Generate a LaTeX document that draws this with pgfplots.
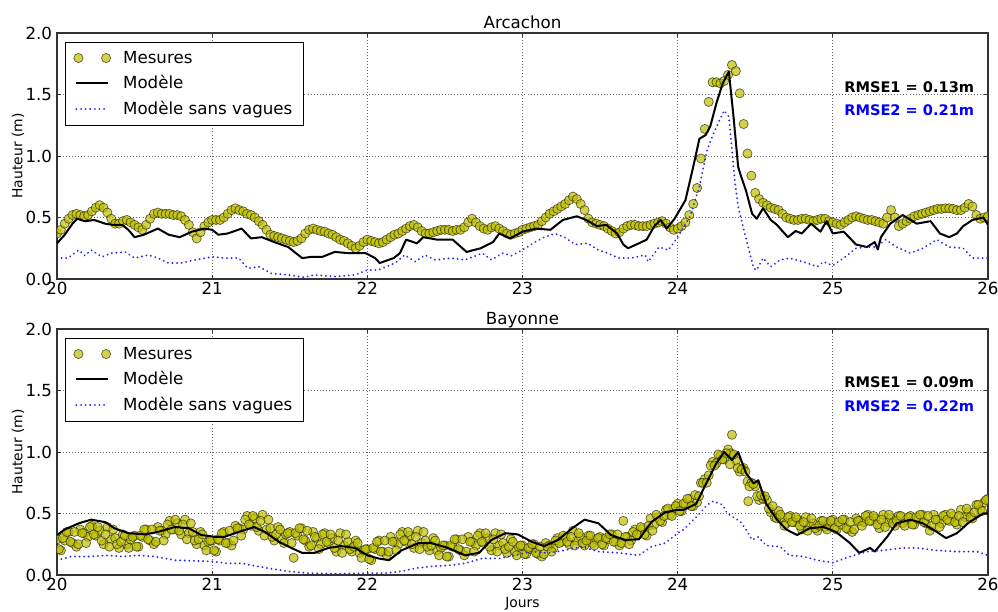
\documentclass[border=0pt]{standalone}
\usepackage{fontspec}
\setmainfont{DejaVu Sans}
\usepackage{pgfplots}
\pgfplotsset{compat=1.18}
\definecolor{meas}{rgb}{0.75,0.75,0}
\definecolor{dblue}{rgb}{0.15,0.15,0.95}
\pgfplotsset{
  myaxis/.style={
    scale only axis, width=670.32pt, height=177.12pt,
    xmin=20, xmax=26, ymin=0, ymax=2,
    xtick={20,21,22,23,24,25,26}, ytick={0,0.5,1,1.5,2},
    yticklabel style={/pgf/number format/.cd, fixed, fixed zerofill, precision=1},
    xticklabel style={yshift=1.5pt},
    /pgf/number format/assume math mode=true,
    tick label style={font=\fontsize{12}{14}\selectfont},
    grid=major,
    major grid style={black!60, line width=0.5pt, dash pattern=on 0.6pt off 1.6pt},
    axis line style={black!80, line width=0.8pt},
    major tick length=3pt,
    tick style={black!80, line width=0.6pt},
    every axis title/.style={at={(0.5,1)}, anchor=base, yshift=3.6pt, font=\fontsize{12}{14}\selectfont},
    every axis y label/.style={at={(axis description cs:-0.0419,0.5)}, rotate=90, anchor=center, font=\fontsize{10}{12}\selectfont},
    ylabel={Hauteur (m)},
    legend style={at={(axis description cs:0.0086,0.963)}, anchor=north west, draw=black, line width=0.7pt, font=\fontsize{12}{14}\selectfont, row sep=3.5pt, column sep=7pt, inner xsep=6pt, inner ysep=4pt},
    legend cell align=left,
    clip marker paths=true,
  },
  meas/.style={only marks, mark=*, mark size=3.3pt, mark options={fill=meas, fill opacity=0.7, draw=black!80!meas, draw opacity=0.7, line width=0.5pt},
    legend image code/.code={\draw[##1] plot[only marks] coordinates {(0.05cm,0cm) (0.75cm,0cm)};}},
  model/.style={black, line width=1.45pt, no markers, line join=round,
    legend image code/.code={\draw[##1] (0cm,0cm) -- (0.8cm,0cm);}},
  nowave/.style={dblue, line width=1.5pt, no markers, line cap=round, dash pattern=on 0.01pt off 3.3pt,
    legend image code/.code={\draw[##1] (0cm,0cm) -- (0.8cm,0cm);}},
}
\begin{document}
\begin{tikzpicture}
\useasboundingbox (-41.04pt,-25.92pt) rectangle (677.52pt,414pt);
% ---------------- Arcachon ----------------
\begin{axis}[myaxis, at={(0pt,213.12pt)}, anchor=south west, title={Arcachon}]
\addplot[meas] coordinates {
(20.000,0.37) (20.025,0.40) (20.050,0.45) (20.075,0.49) (20.100,0.52) (20.125,0.53) (20.150,0.52) (20.175,0.51)
(20.200,0.52) (20.225,0.55) (20.250,0.58) (20.275,0.60) (20.300,0.58) (20.325,0.54) (20.350,0.49) (20.375,0.45)
(20.400,0.45) (20.425,0.47) (20.450,0.48) (20.475,0.46) (20.500,0.44) (20.525,0.42) (20.550,0.40) (20.575,0.44)
(20.600,0.49) (20.625,0.53) (20.650,0.54) (20.675,0.53) (20.700,0.53) (20.725,0.53) (20.750,0.52) (20.775,0.52)
(20.800,0.51) (20.825,0.48) (20.850,0.44) (20.875,0.38) (20.900,0.33) (20.925,0.38) (20.950,0.43) (20.975,0.46)
(21.000,0.48) (21.025,0.48) (21.050,0.48) (21.075,0.50) (21.100,0.53) (21.125,0.56) (21.150,0.575) (21.175,0.56)
(21.200,0.55) (21.225,0.53) (21.250,0.52) (21.275,0.50) (21.300,0.47) (21.325,0.44) (21.350,0.40) (21.375,0.36)
(21.400,0.35) (21.425,0.34) (21.450,0.33) (21.475,0.32) (21.500,0.31) (21.525,0.30) (21.550,0.31) (21.575,0.33)
(21.600,0.37) (21.625,0.40) (21.650,0.41) (21.675,0.40) (21.700,0.39) (21.725,0.385) (21.750,0.37) (21.775,0.36)
(21.800,0.34) (21.825,0.32) (21.850,0.31) (21.875,0.29) (21.900,0.27) (21.925,0.25) (21.950,0.27) (21.975,0.30)
(22.000,0.32) (22.025,0.31) (22.050,0.30) (22.075,0.29) (22.100,0.30) (22.125,0.32) (22.150,0.34) (22.175,0.36)
(22.200,0.37) (22.225,0.39) (22.250,0.41) (22.275,0.43) (22.300,0.44) (22.325,0.42) (22.350,0.39) (22.375,0.37)
(22.400,0.37) (22.425,0.38) (22.450,0.39) (22.475,0.40) (22.500,0.40) (22.525,0.40) (22.550,0.39) (22.575,0.40)
(22.600,0.40) (22.625,0.42) (22.650,0.46) (22.675,0.49) (22.700,0.46) (22.725,0.43) (22.750,0.41) (22.775,0.40)
(22.800,0.42) (22.825,0.43) (22.850,0.41) (22.875,0.39) (22.900,0.37) (22.925,0.36) (22.950,0.37) (22.975,0.38)
(23.000,0.40) (23.025,0.41) (23.050,0.42) (23.075,0.43) (23.100,0.44) (23.125,0.47) (23.150,0.50) (23.175,0.53)
(23.200,0.55) (23.225,0.57) (23.250,0.59) (23.275,0.61) (23.300,0.64) (23.325,0.67) (23.350,0.65) (23.375,0.61)
(23.400,0.56) (23.425,0.49) (23.450,0.46) (23.475,0.45) (23.500,0.44) (23.525,0.43) (23.550,0.41) (23.575,0.39)
(23.600,0.37) (23.625,0.38) (23.650,0.41) (23.675,0.43) (23.700,0.44) (23.725,0.44) (23.750,0.43) (23.775,0.43)
(23.800,0.43) (23.825,0.44) (23.850,0.45) (23.875,0.46) (23.900,0.47) (23.925,0.45) (23.950,0.42) (23.975,0.40)
(24.000,0.41) (24.025,0.43) (24.050,0.46) (24.075,0.52) (24.100,0.61) (24.125,0.74) (24.150,0.98) (24.175,1.22)
(24.200,1.44) (24.225,1.60) (24.250,1.60) (24.275,1.59) (24.300,1.61) (24.325,1.66) (24.350,1.74) (24.375,1.69)
(24.400,1.51) (24.425,1.26) (24.450,1.02) (24.475,0.84) (24.500,0.70) (24.525,0.65) (24.550,0.62) (24.575,0.60)
(24.600,0.58) (24.625,0.57) (24.650,0.56) (24.675,0.53) (24.700,0.50) (24.725,0.49) (24.750,0.48) (24.775,0.48)
(24.800,0.49) (24.825,0.49) (24.850,0.48) (24.875,0.47) (24.900,0.48) (24.925,0.49) (24.950,0.49) (24.975,0.47)
(25.000,0.46) (25.025,0.45) (25.050,0.44) (25.075,0.46) (25.100,0.48) (25.125,0.50) (25.150,0.51) (25.175,0.50)
(25.200,0.49) (25.225,0.48) (25.250,0.48) (25.275,0.47) (25.300,0.46) (25.325,0.45) (25.350,0.50) (25.375,0.56)
(25.400,0.50) (25.425,0.43) (25.450,0.45) (25.475,0.47) (25.500,0.49) (25.525,0.51) (25.550,0.52) (25.575,0.53)
(25.600,0.54) (25.625,0.55) (25.650,0.56) (25.675,0.57) (25.700,0.57) (25.725,0.575) (25.750,0.575) (25.775,0.57)
(25.800,0.56) (25.825,0.56) (25.850,0.58) (25.875,0.61) (25.900,0.59) (25.925,0.52) (25.950,0.49) (25.975,0.50)
(26.000,0.51)
};
\addlegendentry{Mesures}
\addplot[model] coordinates {
(20.00,0.29) (20.05,0.36) (20.10,0.45) (20.13,0.49) (20.18,0.47) (20.24,0.48) (20.31,0.45) (20.36,0.44)
(20.42,0.44) (20.46,0.40) (20.50,0.34) (20.56,0.36) (20.65,0.41) (20.72,0.36) (20.79,0.34) (20.87,0.385)
(20.95,0.41) (21.00,0.40) (21.04,0.36) (21.10,0.37) (21.19,0.41) (21.25,0.33) (21.32,0.34) (21.40,0.30)
(21.49,0.26) (21.58,0.17) (21.64,0.18) (21.71,0.18) (21.79,0.22) (21.88,0.21) (21.99,0.21) (22.05,0.17)
(22.08,0.13) (22.17,0.17) (22.21,0.21) (22.25,0.32) (22.32,0.29) (22.36,0.34) (22.45,0.32) (22.55,0.32)
(22.64,0.22) (22.73,0.25) (22.81,0.30) (22.85,0.37) (22.92,0.33) (23.00,0.385) (23.09,0.41) (23.18,0.40)
(23.26,0.48) (23.35,0.51) (23.41,0.48) (23.48,0.43) (23.54,0.44) (23.61,0.37) (23.65,0.28) (23.68,0.25)
(23.75,0.29) (23.80,0.32) (23.85,0.43) (23.89,0.48) (23.93,0.41) (23.98,0.49) (24.05,0.64) (24.10,0.91)
(24.14,1.14) (24.18,1.17) (24.21,1.24) (24.25,1.43) (24.29,1.59) (24.33,1.685) (24.36,1.32) (24.39,0.91)
(24.41,0.83) (24.44,0.72) (24.48,0.53) (24.51,0.49) (24.55,0.575) (24.60,0.48) (24.64,0.44) (24.71,0.34)
(24.76,0.39) (24.80,0.37) (24.86,0.45) (24.92,0.385) (24.96,0.47) (25.00,0.37) (25.07,0.385) (25.15,0.28)
(25.22,0.26) (25.27,0.30) (25.29,0.24) (25.31,0.34) (25.37,0.45) (25.45,0.52) (25.54,0.45) (25.63,0.47)
(25.69,0.37) (25.75,0.34) (25.80,0.37) (25.84,0.43) (25.90,0.48) (25.97,0.50) (26.00,0.44)
};
\addlegendentry{Modèle}
\addplot[nowave] coordinates {
(20.00,0.17) (20.07,0.17) (20.14,0.235) (20.18,0.19) (20.22,0.235) (20.29,0.18) (20.35,0.21) (20.44,0.22)
(20.50,0.17) (20.59,0.195) (20.65,0.17) (20.72,0.13) (20.80,0.13) (20.89,0.155) (21.00,0.18) (21.08,0.17)
(21.17,0.17) (21.23,0.087) (21.30,0.10) (21.38,0.046) (21.49,0.033) (21.59,0.014) (21.66,0.033) (21.79,0.02)
(21.92,0.033) (22.00,0.073) (22.07,0.073) (22.18,0.13) (22.24,0.195) (22.31,0.14) (22.37,0.195) (22.44,0.155)
(22.54,0.17) (22.63,0.155) (22.74,0.21) (22.80,0.155) (22.87,0.21) (22.93,0.19) (23.00,0.235) (23.08,0.30)
(23.14,0.34) (23.21,0.37) (23.27,0.34) (23.34,0.28) (23.42,0.29) (23.49,0.235) (23.55,0.21) (23.62,0.17)
(23.70,0.17) (23.79,0.195) (23.81,0.14) (23.88,0.26) (23.94,0.235) (24.00,0.34) (24.08,0.51) (24.14,0.75)
(24.19,1.05) (24.23,1.18) (24.27,1.29) (24.30,1.37) (24.33,1.32) (24.35,1.05) (24.37,0.78) (24.39,0.59)
(24.42,0.43) (24.46,0.235) (24.49,0.087) (24.51,0.073) (24.55,0.17) (24.60,0.10) (24.66,0.155) (24.72,0.17)
(24.81,0.14) (24.90,0.10) (24.94,0.14) (25.00,0.11) (25.07,0.17) (25.15,0.25) (25.22,0.26) (25.28,0.26)
(25.34,0.32) (25.41,0.26) (25.50,0.21) (25.58,0.25) (25.67,0.32) (25.75,0.26) (25.84,0.25) (25.90,0.17)
(25.99,0.17) (26.00,0.17)
};
\addlegendentry{Modèle sans vagues}
\node[anchor=west, font=\fontsize{10.5}{12}\selectfont\bfseries, inner sep=0pt] at (axis cs:25.072,1.56) {RMSE1 = 0.13m};
\node[anchor=west, font=\fontsize{10.5}{12}\selectfont\bfseries, text=blue, inner sep=0pt] at (axis cs:25.072,1.37) {RMSE2 = 0.21m};
\end{axis}
% ---------------- Bayonne ----------------
\begin{axis}[myaxis, at={(0pt,0pt)}, anchor=south west, title={Bayonne}, xlabel={Jours},
  every axis x label/.style={at={(axis description cs:0.5,0)}, anchor=center, yshift=-20.9pt, font=\fontsize{10}{12}\selectfont}]
\addplot[meas] coordinates {
(20.000,0.29) (20.025,0.20) (20.050,0.28) (20.075,0.35) (20.100,0.26) (20.125,0.23) (20.150,0.37) (20.175,0.34)
(20.200,0.31) (20.225,0.40) (20.250,0.32) (20.275,0.36) (20.300,0.25) (20.325,0.39) (20.350,0.29) (20.375,0.30)
(20.400,0.22) (20.425,0.33) (20.450,0.25) (20.475,0.29) (20.500,0.32) (20.525,0.23) (20.550,0.31) (20.575,0.37)
(20.600,0.28) (20.625,0.25) (20.650,0.39) (20.675,0.36) (20.700,0.33) (20.725,0.44) (20.750,0.37) (20.775,0.42)
(20.800,0.33) (20.825,0.45) (20.850,0.34) (20.875,0.35) (20.900,0.25) (20.925,0.35) (20.950,0.24) (20.975,0.27)
(21.000,0.28) (21.025,0.19) (21.050,0.28) (21.075,0.35) (21.100,0.26) (21.125,0.24) (21.150,0.40) (21.175,0.38)
(21.200,0.37) (21.225,0.48) (21.250,0.40) (21.275,0.46) (21.300,0.36) (21.325,0.49) (21.350,0.37) (21.375,0.38)
(21.400,0.28) (21.425,0.39) (21.450,0.29) (21.475,0.33) (21.500,0.35) (21.525,0.14) (21.550,0.32) (21.575,0.38)
(21.600,0.28) (21.625,0.23) (21.650,0.35) (21.675,0.30) (21.700,0.25) (21.725,0.34) (21.750,0.26) (21.775,0.30)
(21.800,0.19) (21.825,0.34) (21.850,0.24) (21.875,0.27) (21.900,0.19) (21.925,0.28) (21.950,0.18) (21.975,0.20)
(22.000,0.21) (22.025,0.12) (22.050,0.21) (22.075,0.28) (22.100,0.19) (22.125,0.16) (22.150,0.31) (22.175,0.27)
(22.200,0.25) (22.225,0.35) (22.250,0.27) (22.275,0.32) (22.300,0.22) (22.325,0.36) (22.350,0.26) (22.375,0.28)
(22.400,0.20) (22.425,0.30) (22.450,0.20) (22.475,0.22) (22.500,0.24) (22.525,0.15) (22.550,0.23) (22.575,0.29)
(22.600,0.20) (22.625,0.16) (22.650,0.31) (22.675,0.27) (22.700,0.24) (22.725,0.34) (22.750,0.26) (22.775,0.30)
(22.800,0.20) (22.825,0.34) (22.850,0.24) (22.875,0.26) (22.900,0.18) (22.925,0.29) (22.950,0.19) (22.975,0.23)
(23.000,0.24) (23.025,0.17) (23.050,0.21) (23.075,0.25) (23.100,0.17) (23.125,0.15) (23.150,0.26) (23.175,0.24)
(23.200,0.22) (23.225,0.30) (23.250,0.27) (23.275,0.31) (23.300,0.25) (23.325,0.36) (23.350,0.28) (23.375,0.31)
(23.400,0.24) (23.425,0.32) (23.450,0.26) (23.475,0.29) (23.500,0.31) (23.525,0.24) (23.550,0.29) (23.575,0.33)
(23.600,0.27) (23.625,0.24) (23.650,0.44) (23.675,0.31) (23.700,0.28) (23.725,0.37) (23.750,0.33) (23.775,0.38)
(23.800,0.32) (23.825,0.46) (23.850,0.41) (23.875,0.47) (23.900,0.43) (23.925,0.53) (23.950,0.49) (23.975,0.54)
(24.000,0.58) (24.025,0.52) (24.050,0.58) (24.075,0.62) (24.100,0.56) (24.125,0.59) (24.150,0.75) (24.175,0.78)
(24.200,0.81) (24.225,0.92) (24.250,0.91) (24.275,0.97) (24.300,0.94) (24.325,1.02) (24.340,0.99) (24.350,1.14)
(24.375,0.93) (24.400,0.84) (24.425,0.87) (24.450,0.76) (24.455,0.60) (24.475,0.75) (24.500,0.72) (24.525,0.61)
(24.550,0.62) (24.575,0.61) (24.600,0.51) (24.625,0.47) (24.650,0.52) (24.675,0.47) (24.700,0.42) (24.725,0.48)
(24.750,0.43) (24.775,0.45) (24.800,0.37) (24.825,0.47) (24.850,0.40) (24.875,0.42) (24.900,0.36) (24.925,0.44)
(24.950,0.39) (24.975,0.42) (25.000,0.45) (25.025,0.37) (25.050,0.41) (25.075,0.45) (25.100,0.37) (25.125,0.35)
(25.150,0.46) (25.175,0.44) (25.200,0.43) (25.225,0.49) (25.250,0.44) (25.275,0.46) (25.300,0.38) (25.325,0.49)
(25.350,0.43) (25.375,0.46) (25.400,0.40) (25.425,0.48) (25.450,0.42) (25.475,0.45) (25.500,0.48) (25.525,0.41)
(25.550,0.45) (25.575,0.49) (25.600,0.42) (25.625,0.36) (25.650,0.49) (25.675,0.45) (25.700,0.42) (25.725,0.49)
(25.750,0.44) (25.775,0.48) (25.800,0.41) (25.825,0.53) (25.850,0.47) (25.875,0.51) (25.900,0.46) (25.925,0.57)
(25.950,0.53) (25.975,0.59) (26.000,0.62)
(20.0125,0.21) (20.0375,0.30) (20.0625,0.35) (20.0875,0.27) (20.1125,0.35) (20.1375,0.25) (20.1625,0.34) (20.1875,0.26)
(20.2125,0.39) (20.2375,0.33) (20.2625,0.39) (20.2875,0.28) (20.3125,0.33) (20.3375,0.23) (20.3625,0.37) (20.3875,0.25)
(20.4125,0.27) (20.4375,0.32) (20.4625,0.22) (20.4875,0.31) (20.5125,0.23) (20.5375,0.32) (20.5625,0.37) (20.5875,0.29)
(20.6125,0.37) (20.6375,0.27) (20.6625,0.36) (20.6875,0.28) (20.7125,0.41) (20.7375,0.37) (20.7625,0.45) (20.7875,0.36)
(20.8125,0.41) (20.8375,0.29) (20.8625,0.42) (20.8875,0.28) (20.9125,0.29) (20.9375,0.33) (20.9625,0.20) (20.9875,0.28)
(21.0125,0.20) (21.0375,0.29) (21.0625,0.34) (21.0875,0.26) (21.1125,0.36) (21.1375,0.28) (21.1625,0.38) (21.1875,0.32)
(21.2125,0.45) (21.2375,0.41) (21.2625,0.48) (21.2875,0.39) (21.3125,0.44) (21.3375,0.32) (21.3625,0.45) (21.3875,0.31)
(21.4125,0.33) (21.4375,0.37) (21.4625,0.26) (21.4875,0.34) (21.5125,0.26) (21.5375,0.34) (21.5625,0.38) (21.5875,0.29)
(21.6125,0.36) (21.6375,0.24) (21.6625,0.31) (21.6875,0.21) (21.7125,0.33) (21.7375,0.27) (21.7625,0.33) (21.7875,0.22)
(21.8125,0.28) (21.8375,0.18) (21.8625,0.33) (21.8875,0.21) (21.9125,0.23) (21.9375,0.26) (21.9625,0.14) (21.9875,0.21)
(22.0125,0.13) (22.0375,0.22) (22.0625,0.27) (22.0875,0.19) (22.1125,0.28) (22.1375,0.19) (22.1625,0.27) (22.1875,0.20)
(22.2125,0.33) (22.2375,0.28) (22.2625,0.35) (22.2875,0.25) (22.3125,0.31) (22.3375,0.21) (22.3625,0.35) (22.3875,0.23)
(22.4125,0.24) (22.4375,0.28) (22.4625,0.16) (22.4875,0.24) (22.5125,0.15) (22.5375,0.24) (22.5625,0.29) (22.5875,0.21)
(22.6125,0.29) (22.6375,0.19) (22.6625,0.27) (22.6875,0.19) (22.7125,0.32) (22.7375,0.27) (22.7625,0.34) (22.7875,0.23)
(22.8125,0.29) (22.8375,0.19) (22.8625,0.33) (22.8875,0.21) (22.9125,0.23) (22.9375,0.27) (22.9625,0.16) (22.9875,0.24)
(23.0125,0.17) (23.0375,0.22) (23.0625,0.25) (23.0875,0.18) (23.1125,0.23) (23.1375,0.17) (23.1625,0.23) (23.1875,0.19)
(23.2125,0.28) (23.2375,0.26) (23.2625,0.32) (23.2875,0.27) (23.3125,0.31) (23.3375,0.24) (23.3625,0.34) (23.3875,0.26)
(23.4125,0.28) (23.4375,0.32) (23.4625,0.24) (23.4875,0.30) (23.5125,0.25) (23.5375,0.30) (23.5625,0.33) (23.5875,0.27)
(23.6125,0.33) (23.6375,0.26) (23.6625,0.31) (23.6875,0.25) (23.7125,0.35) (23.7375,0.33) (23.7625,0.39) (23.7875,0.33)
(23.8125,0.40) (23.8375,0.36) (23.8625,0.49) (23.8875,0.44) (23.9125,0.48) (23.9375,0.54) (23.9625,0.48) (23.9875,0.56)
(24.0125,0.52) (24.0375,0.58) (24.0625,0.62) (24.0875,0.56) (24.1125,0.65) (24.1375,0.64) (24.1625,0.75) (24.1875,0.75)
(24.2125,0.89) (24.2375,0.89) (24.2625,0.98) (24.2875,0.94) (24.3125,0.99) (24.3375,0.90) (24.3625,0.98) (24.3875,0.87)
(24.4125,0.86) (24.4375,0.84) (24.4625,0.72) (24.4875,0.74) (24.5125,0.64) (24.5375,0.65) (24.5625,0.64) (24.5875,0.54)
(24.6125,0.56) (24.6375,0.46) (24.6625,0.49) (24.6875,0.40) (24.7125,0.47) (24.7375,0.43) (24.7625,0.47) (24.7875,0.40)
(24.8125,0.43) (24.8375,0.36) (24.8625,0.46) (24.8875,0.38) (24.9125,0.40) (24.9375,0.44) (24.9625,0.37) (24.9875,0.44)
(25.0125,0.38) (25.0375,0.43) (25.0625,0.45) (25.0875,0.38) (25.1125,0.43) (25.1375,0.37) (25.1625,0.44) (25.1875,0.40)
(25.2125,0.48) (25.2375,0.44) (25.2625,0.48) (25.2875,0.41) (25.3125,0.45) (25.3375,0.39) (25.3625,0.49) (25.3875,0.42)
(25.4125,0.44) (25.4375,0.48) (25.4625,0.40) (25.4875,0.47) (25.5125,0.41) (25.5375,0.47) (25.5625,0.49) (25.5875,0.43)
(25.6125,0.48) (25.6375,0.40) (25.6625,0.45) (25.6875,0.39) (25.7125,0.48) (25.7375,0.45) (25.7625,0.50) (25.7875,0.43)
(25.8125,0.48) (25.8375,0.43) (25.8625,0.54) (25.8875,0.47) (25.9125,0.51) (25.9375,0.57) (25.9625,0.52) (25.9875,0.61)
};
\addlegendentry{Mesures}
\addplot[model] coordinates {
(20.00,0.325) (20.05,0.37) (20.14,0.42) (20.22,0.45) (20.31,0.43) (20.37,0.38) (20.46,0.34) (20.57,0.33)
(20.65,0.35) (20.76,0.39) (20.85,0.38) (20.93,0.325) (21.02,0.31) (21.08,0.31) (21.17,0.35) (21.27,0.39)
(21.34,0.35) (21.43,0.27) (21.51,0.22) (21.58,0.18) (21.66,0.18) (21.75,0.22) (21.83,0.235) (21.92,0.22)
(22.00,0.16) (22.07,0.135) (22.14,0.12) (22.22,0.20) (22.33,0.26) (22.41,0.26) (22.52,0.22) (22.63,0.16)
(22.72,0.18) (22.80,0.285) (22.89,0.34) (22.97,0.33) (23.06,0.27) (23.14,0.235) (23.23,0.285) (23.32,0.38)
(23.40,0.45) (23.49,0.42) (23.57,0.325) (23.66,0.285) (23.75,0.29) (23.83,0.43) (23.92,0.51) (24.00,0.53)
(24.04,0.53) (24.12,0.58) (24.19,0.76) (24.25,0.91) (24.30,1.00) (24.35,0.935) (24.39,1.00) (24.44,0.83)
(24.49,0.745) (24.52,0.77) (24.57,0.58) (24.64,0.45) (24.70,0.37) (24.77,0.325) (24.85,0.38) (24.94,0.39)
(25.02,0.35) (25.11,0.26) (25.17,0.18) (25.24,0.22) (25.27,0.19) (25.35,0.31) (25.41,0.42) (25.50,0.45)
(25.58,0.42) (25.67,0.35) (25.73,0.30) (25.80,0.34) (25.88,0.43) (25.97,0.50) (26.00,0.50)
};
\addlegendentry{Modèle}
\addplot[nowave] coordinates {
(20.00,0.12) (20.09,0.15) (20.20,0.15) (20.33,0.16) (20.42,0.15) (20.52,0.16) (20.63,0.15) (20.76,0.12)
(20.89,0.115) (21.00,0.11) (21.10,0.095) (21.19,0.095) (21.25,0.08) (21.36,0.055) (21.49,0.03) (21.62,0.015)
(21.80,0.01) (22.00,0.015) (22.11,0.015) (22.22,0.03) (22.31,0.055) (22.41,0.07) (22.54,0.08) (22.63,0.095)
(22.74,0.135) (22.85,0.135) (22.95,0.16) (23.06,0.19) (23.17,0.18) (23.27,0.20) (23.38,0.23) (23.49,0.19)
(23.62,0.18) (23.75,0.16) (23.83,0.23) (23.92,0.26) (24.00,0.34) (24.04,0.37) (24.12,0.47) (24.19,0.57)
(24.23,0.60) (24.29,0.57) (24.32,0.50) (24.37,0.46) (24.40,0.44) (24.44,0.37) (24.48,0.285) (24.52,0.31)
(24.57,0.24) (24.66,0.23) (24.72,0.16) (24.81,0.15) (24.90,0.12) (25.00,0.10) (25.11,0.15) (25.22,0.19)
(25.32,0.20) (25.45,0.22) (25.54,0.22) (25.67,0.20) (25.80,0.19) (25.93,0.19) (26.00,0.16)
};
\addlegendentry{Modèle sans vagues}
\node[anchor=west, font=\fontsize{10.5}{12}\selectfont\bfseries, inner sep=0pt] at (axis cs:25.072,1.57) {RMSE1 = 0.09m};
\node[anchor=west, font=\fontsize{10.5}{12}\selectfont\bfseries, text=blue, inner sep=0pt] at (axis cs:25.072,1.37) {RMSE2 = 0.22m};
\end{axis}
\end{tikzpicture}
\end{document}
